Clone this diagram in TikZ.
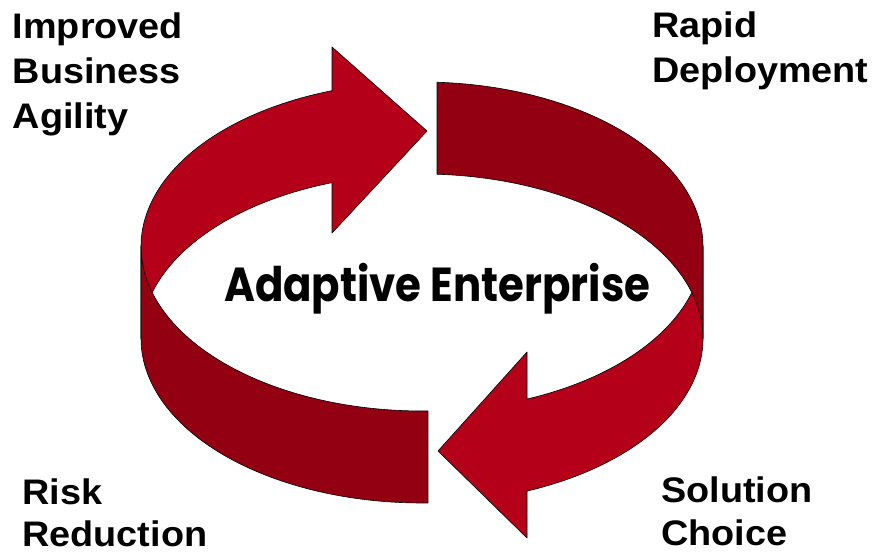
\documentclass[tikz,border=0pt]{standalone}
\usepackage{fontspec}
\usepackage{graphicx}
\setmainfont{Liberation Sans}
\newfontfamily\geofont{Poppins}
\definecolor{brightred}{RGB}{181,0,25}
\definecolor{darkred}{RGB}{147,0,18}
\tikzset{
  brightpart/.style={fill=brightred, draw=black, line width=0.6pt, line join=round},
  darkpart/.style={fill=darkred, draw=black, line width=0.6pt, line join=round},
  lbl/.style={inner sep=0pt, anchor=base west, font=\fontsize{35.5}{40}\selectfont\bfseries},
  centerlbl/.style={inner sep=0pt, anchor=base west, font=\geofont\bfseries\fontsize{47.7}{50}\selectfont}
}
\newcommand{\wide}[1]{\scalebox{1.065}[1]{#1}}
\begin{document}
\begin{tikzpicture}[x=1pt,y=-1pt]
\useasboundingbox (0,0) rectangle (875,554);
% upper-left arrow
\draw[brightpart] (332,182.7) -- (332,233) -- (427,131) -- (332,47) -- (332,90.7)
  -- plot[domain=251.32:180, samples=60, variable=\t] ({422+281*cos(\t)},{246.5+164.5*sin(\t)})
  -- plot[domain=180:251.32, samples=60, variable=\t] ({422+281*cos(\t)},{338.5+164.5*sin(\t)})
  -- cycle;
% lower-right arrow
\draw[brightpart] (527,491.1) -- (527,538) -- (438,451) -- (527,352) -- (527,399.1)
  -- plot[domain=68.06:0, samples=60, variable=\t] ({422+281*cos(\t)},{246.5+164.5*sin(\t)})
  -- plot[domain=0:68.06, samples=60, variable=\t] ({422+281*cos(\t)},{338.5+164.5*sin(\t)})
  -- cycle;
% back band (upper right)
\draw[darkpart] plot[domain=273.06:360, samples=60, variable=\t] ({422+281*cos(\t)},{246.5+164.5*sin(\t)})
  -- plot[domain=360:273.06, samples=60, variable=\t] ({422+281*cos(\t)},{338.5+164.5*sin(\t)})
  -- cycle;
% front band (lower left)
\draw[darkpart] plot[domain=180:88.78, samples=60, variable=\t] ({422+281*cos(\t)},{246.5+164.5*sin(\t)})
  -- plot[domain=88.78:180, samples=60, variable=\t] ({422+281*cos(\t)},{338.5+164.5*sin(\t)})
  -- cycle;
% labels
\node[lbl] (imp1) at (12.6,38) {\wide{Improved}};
\node[lbl] (imp2) at (12.6,83) {\wide{Business}};
\node[lbl] (imp3) at (12.6,128) {\wide{Agility}};
\node[lbl] (rap1) at (652,37) {\wide{Rapid}};
\node[lbl] (rap2) at (652,82) {\wide{Deployment}};
\node[lbl] (risk1) at (22.2,504) {\wide{Risk}};
\node[lbl] (risk2) at (22.2,546) {\wide{Reduction}};
\node[lbl] (sol1) at (661,502) {\wide{Solution}};
\node[lbl] (sol2) at (661,545) {\wide{Choice}};
\node[centerlbl] (center) at (224,301.7) {\resizebox{426pt}{\height}{Adaptive Enterprise}};
\end{tikzpicture}
\end{document}
